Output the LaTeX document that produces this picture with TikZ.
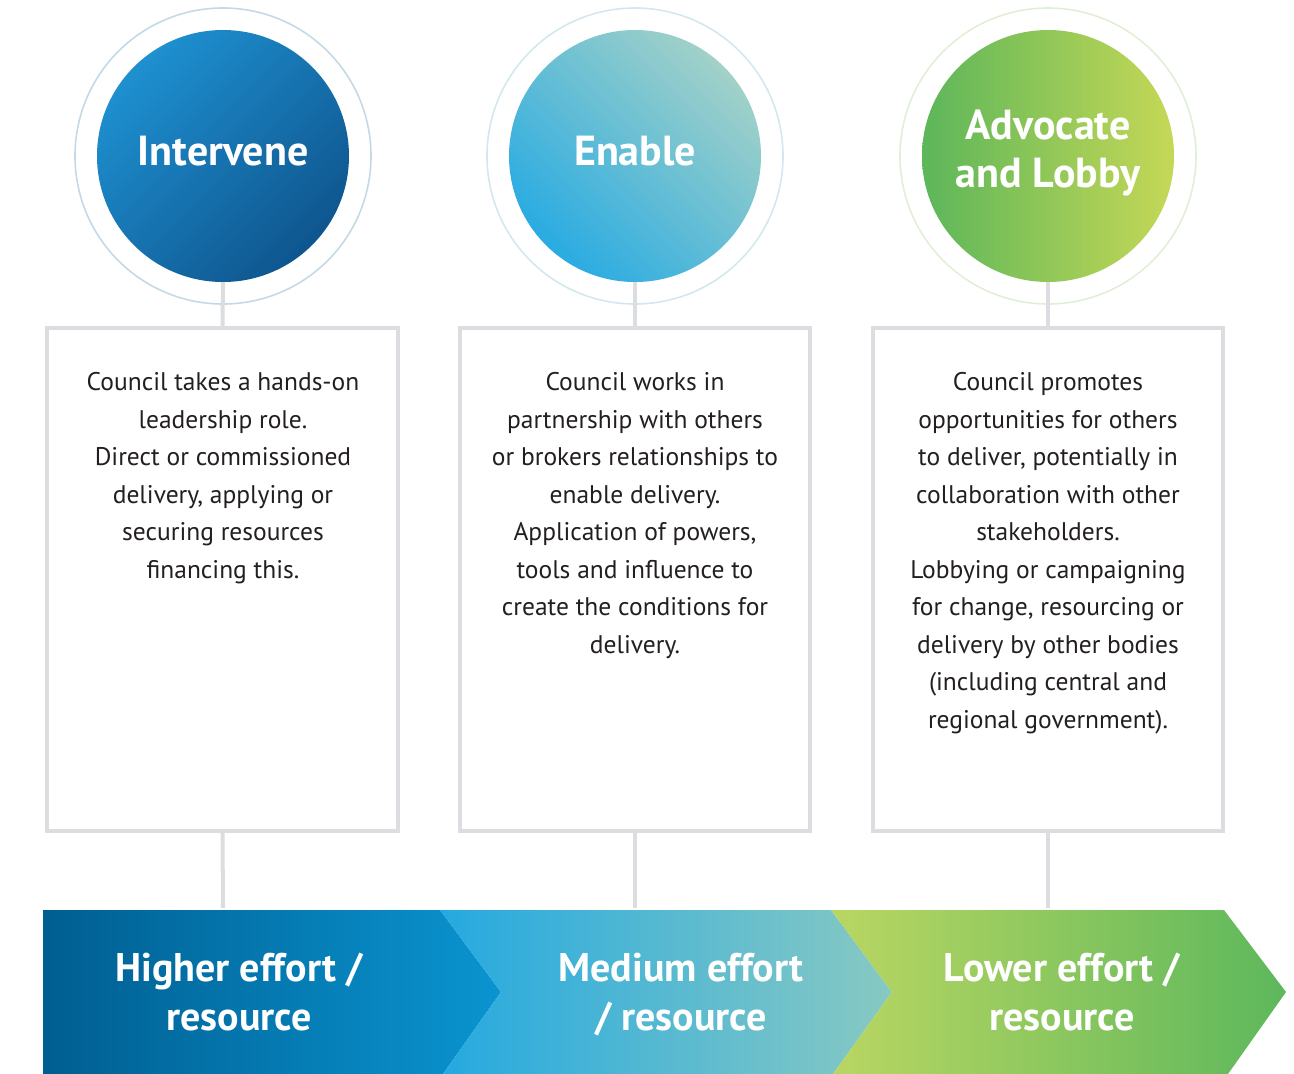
\documentclass[tikz,border=0pt]{standalone}
\usepackage{fontspec}
\setmainfont{PT Sans}
\definecolor{cAlight}{HTML}{1E90D0}
\definecolor{cAdark}{HTML}{0F558E}
\definecolor{cBblue}{HTML}{29ABE2}
\definecolor{cBteal}{HTML}{A2D1C8}
\definecolor{cCgreen}{HTML}{5CB65A}
\definecolor{cClime}{HTML}{C6D856}
\definecolor{chAL}{HTML}{005E91}
\definecolor{chAR}{HTML}{0A94D0}
\definecolor{chBL}{HTML}{25A9E0}
\definecolor{chBR}{HTML}{88C9C2}
\definecolor{chCL}{HTML}{BAD662}
\definecolor{chCR}{HTML}{5DB85C}
\definecolor{ringA}{HTML}{C3DAE6}
\definecolor{ringB}{HTML}{D3E8EE}
\definecolor{ringC}{HTML}{E0EFD6}
\definecolor{boxgray}{HTML}{DCDDE0}
\definecolor{txt}{HTML}{231F20}
\begin{document}
\begin{tikzpicture}[x=1pt,y=-1pt,
  ring/.style={circle,draw,line width=1.6pt,minimum size=296pt,inner sep=0pt},
  disc/.style={circle,minimum size=252pt,inner sep=0pt,text=white,font=\fontsize{42}{48}\selectfont\bfseries,align=center},
  panel/.style={draw=boxgray,line width=4pt,minimum height=503pt,inner sep=0pt},
  link/.style={draw=boxgray,line width=4pt},
  bodytext/.style={anchor=north,text=txt,align=center,font=\fontsize{25.5}{37.5}\selectfont},
  bandtext/.style={text=white,align=center,font=\fontsize{40}{49}\selectfont\bfseries}]
\useasboundingbox (0,0) rectangle (1294,1074);
% band
\shade[left color=chAL,right color=chAR] (43,910) -- (440,910) -- (501,992) -- (443,1074) -- (43,1074) -- cycle;
\shade[left color=chBL,right color=chBR] (440,910) -- (831,910) -- (892,992) -- (833,1074) -- (443,1074) -- (501,992) -- cycle;
\shade[left color=chCL,right color=chCR] (831,910) -- (1224,910) -- (1286,992) -- (1228,1074) -- (833,1074) -- (892,992) -- cycle;
% rings
\node[ring,draw=ringA] (rA) at (223,156) {};
\node[ring,draw=ringB] (rB) at (635,156) {};
\node[ring,draw=ringC] (rC) at (1048,156) {};
% boxes
\node[panel,minimum width=351pt] (bA) at (222.5,579.5) {};
\node[panel,minimum width=350pt] (bB) at (635,579.5) {};
\node[panel,minimum width=350pt] (bC) at (1048,579.5) {};
% connectors
\coordinate (eA) at (223,908);
\coordinate (eB) at (635,908);
\coordinate (eC) at (1048,908);
\node[disc,top color=cAlight,bottom color=cAdark,shading angle=45] (cA) at (223,156) {};
\node[disc,top color=cBteal,bottom color=cBblue,shading angle=-45] (cB) at (635,156) {};
\node[disc,top color=cClime,bottom color=cCgreen,shading angle=-90] (cC) at (1048,156) {};
\draw[link] (cA.south) -- (bA.north);
\draw[link] (cB.south) -- (bB.north);
\draw[link] (cC.south) -- (bC.north);
\draw[link] (bA.south) -- (eA);
\draw[link] (bB.south) -- (eB);
\draw[link] (bC.south) -- (eC);
% circle titles
\node[disc] (tA) at (223,151) {Intervene};
\node[disc] (tB) at (635,151) {Enable};
\node[disc] (tC) at (1048,153) {Advocate\\and Lobby};
% body texts
\node[bodytext] (xA) at (223,369) {Council takes a hands-on\\leadership role.\\Direct or commissioned\\delivery, applying or\\securing resources\\financing this.};
\node[bodytext] (xB) at (635,369) {Council works in\\partnership with others\\or brokers relationships to\\enable delivery.\\Application of powers,\\tools and influence to\\create the conditions for\\delivery.};
\node[bodytext] (xC) at (1048,369) {Council promotes\\opportunities for others\\to deliver, potentially in\\collaboration with other\\stakeholders.\\Lobbying or campaigning\\for change, resourcing or\\delivery by other bodies\\(including central and\\regional government).};
% band labels
\node[bandtext] (lA) at (239,992) {Higher effort /\\resource};
\node[bandtext] (lB) at (681,995) {Medium effort\\/ resource};
\node[bandtext] (lC) at (1062,992) {Lower effort /\\resource};
\end{tikzpicture}
\end{document}
